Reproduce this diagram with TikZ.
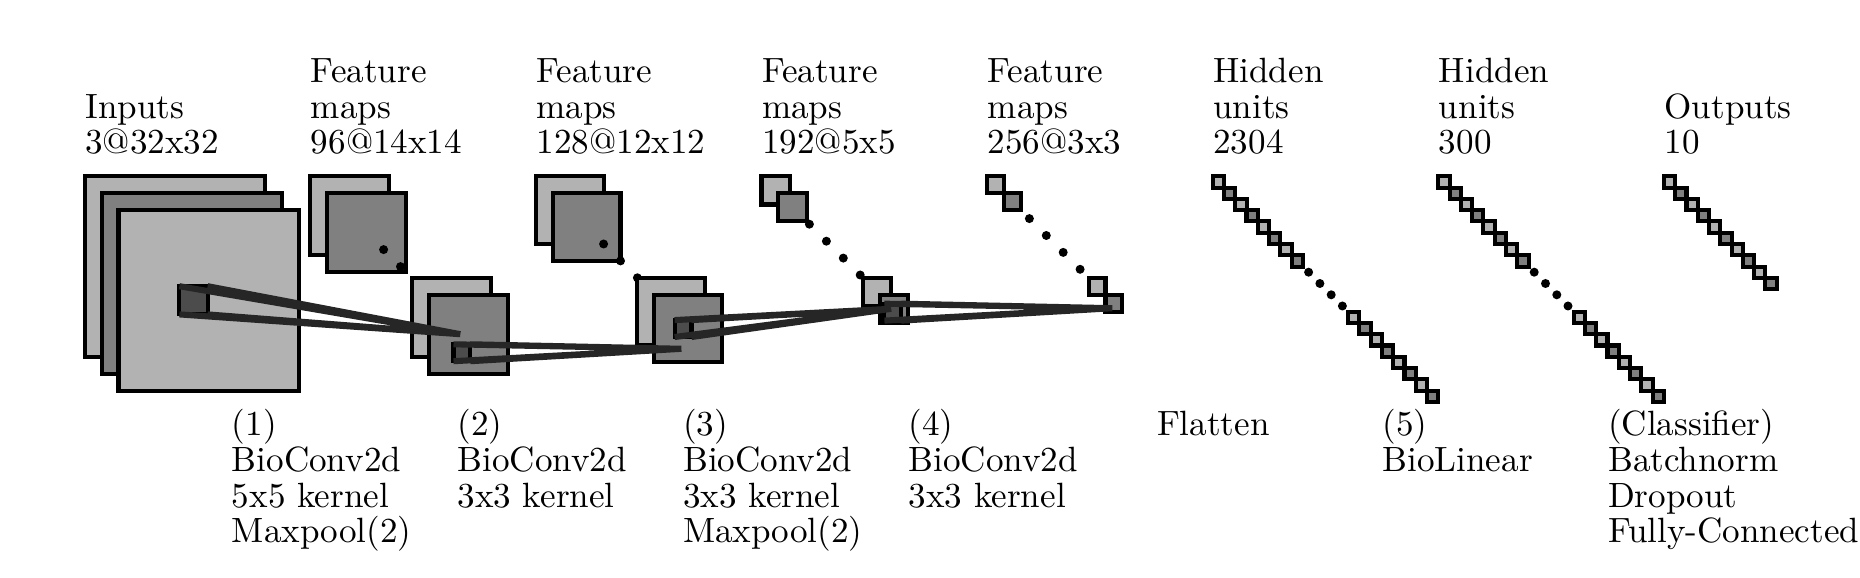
\documentclass[tikz,border=0pt]{standalone}
\begin{document}
\begin{tikzpicture}[x=0.295pt,y=0.295pt,yscale=-1,xscale=1,
  lightmap/.style={draw=black,fill=black!30,line width=1.2pt},
  medmap/.style={draw=black,fill=black!50,line width=1.2pt},
  omitdot/.style={fill=black},
  kernel/.style={rectangle,draw=black,fill=black!70,line width=1.2pt,inner sep=0pt,outer sep=0pt,anchor=north west},
  link/.style={draw=black!85,line width=1.8pt},
  toplabel/.style={anchor=base west,inner sep=0pt,align=left,font=\fontsize{10.35}{10.5}\selectfont},
  botlabel/.style={anchor=north west,inner sep=0pt,align=left,font=\fontsize{10.35}{10.55}\selectfont}]
\useasboundingbox (0,0) rectangle (1860,578);

%Inputs 3@32x32
\draw [lightmap] (84.7,176.3) rectangle ++(180.5,180.5) ;
\draw [medmap] (101.6,193.2) rectangle ++(180.5,180.5) ;
\draw [lightmap] (118.5,210.1) rectangle ++(180.5,180.5) ;

%Feature maps 96@14x14
\draw [lightmap] (310.3,176.3) rectangle ++(79,79) ;
\draw [medmap] (327.2,193.2) rectangle ++(79,79) ;
\fill [omitdot] (383.6,249.6) circle (4.5) ;
\fill [omitdot] (400.5,266.6) circle (4.5) ;
\draw [lightmap] (411.8,277.8) rectangle ++(79,79) ;
\draw [medmap] (428.7,294.7) rectangle ++(79,79) ;

%Feature maps 128@12x12
\draw [lightmap] (535.9,176.3) rectangle ++(67.7,67.7) ;
\draw [medmap] (552.8,193.2) rectangle ++(67.7,67.7) ;
\fill [omitdot] (603.6,244.0) circle (4.5) ;
\fill [omitdot] (620.5,260.9) circle (4.5) ;
\fill [omitdot] (637.4,277.8) circle (4.5) ;
\draw [lightmap] (637.4,277.8) rectangle ++(67.7,67.7) ;
\draw [medmap] (654.3,294.7) rectangle ++(67.7,67.7) ;

%Feature maps 192@5x5
\draw [lightmap] (761.5,176.3) rectangle ++(28.2,28.2) ;
\draw [medmap] (778.4,193.2) rectangle ++(28.2,28.2) ;
\fill [omitdot] (809.4,224.2) circle (4.5) ;
\fill [omitdot] (826.4,241.2) circle (4.5) ;
\fill [omitdot] (843.3,258.1) circle (4.5) ;
\fill [omitdot] (860.2,275.0) circle (4.5) ;
\draw [lightmap] (863.0,277.8) rectangle ++(28.2,28.2) ;
\draw [medmap] (879.9,294.7) rectangle ++(28.2,28.2) ;

%Feature maps 256@3x3
\draw [lightmap] (987.1,176.3) rectangle ++(16.9,16.9) ;
\draw [medmap] (1004.0,193.2) rectangle ++(16.9,16.9) ;
\fill [omitdot] (1029.4,218.6) circle (4.5) ;
\fill [omitdot] (1046.3,235.5) circle (4.5) ;
\fill [omitdot] (1063.2,252.4) circle (4.5) ;
\fill [omitdot] (1080.1,269.3) circle (4.5) ;
\draw [lightmap] (1088.6,277.8) rectangle ++(16.9,16.9) ;
\draw [medmap] (1105.5,294.7) rectangle ++(16.9,16.9) ;

%Hidden units 2304
\draw [lightmap] (1212.7,176.3) rectangle ++(11.3,11.3) ;
\draw [medmap] (1224.0,187.6) rectangle ++(11.3,11.3) ;
\draw [lightmap] (1235.3,198.9) rectangle ++(11.3,11.3) ;
\draw [medmap] (1246.5,210.1) rectangle ++(11.3,11.3) ;
\draw [lightmap] (1257.8,221.4) rectangle ++(11.3,11.3) ;
\draw [medmap] (1269.1,232.7) rectangle ++(11.3,11.3) ;
\draw [lightmap] (1280.4,244.0) rectangle ++(11.3,11.3) ;
\draw [medmap] (1291.7,255.3) rectangle ++(11.3,11.3) ;
\fill [omitdot] (1308.6,272.2) circle (4.5) ;
\fill [omitdot] (1319.9,283.5) circle (4.5) ;
\fill [omitdot] (1331.2,294.8) circle (4.5) ;
\fill [omitdot] (1342.4,306.0) circle (4.5) ;
\draw [lightmap] (1348.1,311.7) rectangle ++(11.3,11.3) ;
\draw [medmap] (1359.3,322.9) rectangle ++(11.3,11.3) ;
\draw [lightmap] (1370.6,334.2) rectangle ++(11.3,11.3) ;
\draw [medmap] (1381.9,345.5) rectangle ++(11.3,11.3) ;
\draw [lightmap] (1393.2,356.8) rectangle ++(11.3,11.3) ;
\draw [medmap] (1404.5,368.1) rectangle ++(11.3,11.3) ;
\draw [lightmap] (1415.7,379.3) rectangle ++(11.3,11.3) ;
\draw [medmap] (1427.0,390.6) rectangle ++(11.3,11.3) ;

%Hidden units 300
\draw [lightmap] (1438.3,176.3) rectangle ++(11.3,11.3) ;
\draw [medmap] (1449.6,187.6) rectangle ++(11.3,11.3) ;
\draw [lightmap] (1460.9,198.9) rectangle ++(11.3,11.3) ;
\draw [medmap] (1472.1,210.1) rectangle ++(11.3,11.3) ;
\draw [lightmap] (1483.4,221.4) rectangle ++(11.3,11.3) ;
\draw [medmap] (1494.7,232.7) rectangle ++(11.3,11.3) ;
\draw [lightmap] (1506.0,244.0) rectangle ++(11.3,11.3) ;
\draw [medmap] (1517.3,255.3) rectangle ++(11.3,11.3) ;
\fill [omitdot] (1534.2,272.2) circle (4.5) ;
\fill [omitdot] (1545.5,283.5) circle (4.5) ;
\fill [omitdot] (1556.8,294.8) circle (4.5) ;
\fill [omitdot] (1568.0,306.0) circle (4.5) ;
\draw [lightmap] (1573.7,311.7) rectangle ++(11.3,11.3) ;
\draw [medmap] (1584.9,322.9) rectangle ++(11.3,11.3) ;
\draw [lightmap] (1596.2,334.2) rectangle ++(11.3,11.3) ;
\draw [medmap] (1607.5,345.5) rectangle ++(11.3,11.3) ;
\draw [lightmap] (1618.8,356.8) rectangle ++(11.3,11.3) ;
\draw [medmap] (1630.1,368.1) rectangle ++(11.3,11.3) ;
\draw [lightmap] (1641.3,379.3) rectangle ++(11.3,11.3) ;
\draw [medmap] (1652.6,390.6) rectangle ++(11.3,11.3) ;

%Outputs 10
\draw [lightmap] (1663.9,176.3) rectangle ++(11.3,11.3) ;
\draw [medmap] (1675.2,187.6) rectangle ++(11.3,11.3) ;
\draw [lightmap] (1686.5,198.9) rectangle ++(11.3,11.3) ;
\draw [medmap] (1697.7,210.1) rectangle ++(11.3,11.3) ;
\draw [lightmap] (1709.0,221.4) rectangle ++(11.3,11.3) ;
\draw [medmap] (1720.3,232.7) rectangle ++(11.3,11.3) ;
\draw [lightmap] (1731.6,244.0) rectangle ++(11.3,11.3) ;
\draw [medmap] (1742.9,255.3) rectangle ++(11.3,11.3) ;
\draw [lightmap] (1754.1,266.6) rectangle ++(11.3,11.3) ;
\draw [medmap] (1765.4,277.8) rectangle ++(11.3,11.3) ;

%Kernels and their end points
\node [kernel,minimum size=8.32pt] (k1) at (179.4,286.2) {};
\coordinate (e1) at (460.3,334.2);
\node [kernel,minimum size=4.99pt] (k2) at (453.5,344.3) {};
\coordinate (e2) at (681.4,348.8);
\node [kernel,minimum size=4.99pt] (k3) at (674.6,320.1) {};
\coordinate (e3) at (891.2,308.8);
\node [kernel,minimum size=4.99pt] (k4) at (884.4,303.7) {};
\coordinate (e4) at (1112.3,308.2);

%Straight Lines
\draw [link] (k1.north west) -- (e1) (k1.north east) -- (e1) (k1.south west) -- (e1) (k1.south east) -- (e1) ;
\draw [link] (k2.north west) -- (e2) (k2.north east) -- (e2) (k2.south west) -- (e2) (k2.south east) -- (e2) ;
\draw [link] (k3.north west) -- (e3) (k3.north east) -- (e3) (k3.south west) -- (e3) (k3.south east) -- (e3) ;
\draw [link] (k4.north west) -- (e4) (k4.north east) -- (e4) (k4.south west) -- (e4) (k4.south east) -- (e4) ;

% Text Node
\node [toplabel] (lab0) at (84.7,153.7) {Inputs\\3@32x32};
\node [toplabel] (lab1) at (310.3,153.7) {Feature\\maps\\96@14x14};
\node [toplabel] (lab2) at (535.9,153.7) {Feature\\maps\\128@12x12};
\node [toplabel] (lab3) at (761.5,153.7) {Feature\\maps\\192@5x5};
\node [toplabel] (lab4) at (987.1,153.7) {Feature\\maps\\256@3x3};
\node [toplabel] (lab5) at (1212.7,153.7) {Hidden\\units\\2304};
\node [toplabel] (lab6) at (1438.3,153.7) {Hidden\\units\\300};
\node [toplabel] (lab7) at (1663.9,153.7) {Outputs\\10};
% Text Node
\node [botlabel] (op1) at (231.3,408.5) {(1)\\BioConv2d\\5x5 kernel\\Maxpool(2)};
\node [botlabel] (op2) at (456.9,408.5) {(2)\\BioConv2d\\3x3 kernel};
\node [botlabel] (op3) at (682.5,408.5) {(3)\\BioConv2d\\3x3 kernel\\Maxpool(2)};
\node [botlabel] (op4) at (908.1,408.5) {(4)\\BioConv2d\\3x3 kernel};
\node [botlabel] (op5) at (1156.4,410.4) {Flatten};
\node [botlabel] (op6) at (1381.9,408.5) {(5)\\BioLinear};
\node [botlabel] (op7) at (1607.5,408.5) {(Classifier)\\Batchnorm\\Dropout\\Fully-Connected};

\end{tikzpicture}
\end{document}
